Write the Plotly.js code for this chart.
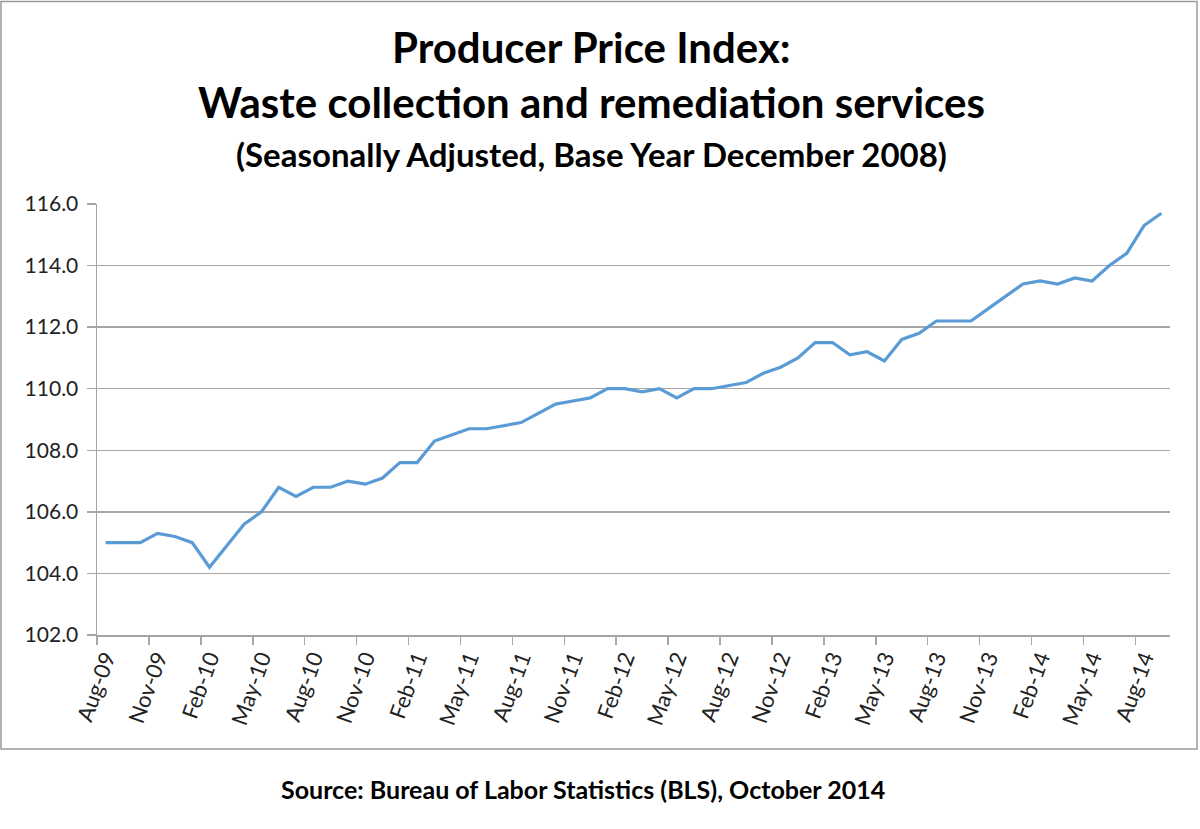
<!DOCTYPE html>
<html>
<head>
<meta charset="utf-8">
<script src="https://cdn.plot.ly/plotly-3.0.1.min.js"></script>
<style>
  html, body { margin: 0; padding: 0; background: #fff; }
  #chart { width: 1200px; height: 829px; }
</style>
</head>
<body>
<div id="chart"></div>
<script>
// monthly categories, Aug-09 .. Sep-14
var months = [
  'Aug-09', 'Sep-09', 'Oct-09', 'Nov-09', 'Dec-09', 'Jan-10', 'Feb-10', 'Mar-10',
  'Apr-10', 'May-10', 'Jun-10', 'Jul-10', 'Aug-10', 'Sep-10', 'Oct-10', 'Nov-10',
  'Dec-10', 'Jan-11', 'Feb-11', 'Mar-11', 'Apr-11', 'May-11', 'Jun-11', 'Jul-11',
  'Aug-11', 'Sep-11', 'Oct-11', 'Nov-11', 'Dec-11', 'Jan-12', 'Feb-12', 'Mar-12',
  'Apr-12', 'May-12', 'Jun-12', 'Jul-12', 'Aug-12', 'Sep-12', 'Oct-12', 'Nov-12',
  'Dec-12', 'Jan-13', 'Feb-13', 'Mar-13', 'Apr-13', 'May-13', 'Jun-13', 'Jul-13',
  'Aug-13', 'Sep-13', 'Oct-13', 'Nov-13', 'Dec-13', 'Jan-14', 'Feb-14', 'Mar-14',
  'Apr-14', 'May-14', 'Jun-14', 'Jul-14', 'Aug-14', 'Sep-14'
];

// PPI values
var ppi = [
  105.0, 105.0, 105.0, 105.3, 105.2, 105.0, 104.2, 104.9,
  105.6, 106.0, 106.8, 106.5, 106.8, 106.8, 107.0, 106.9,
  107.1, 107.6, 107.6, 108.3, 108.5, 108.7, 108.7, 108.8,
  108.9, 109.2, 109.5, 109.6, 109.7, 110.0, 110.0, 109.9,
  110.0, 109.7, 110.0, 110.0, 110.1, 110.2, 110.5, 110.7,
  111.0, 111.5, 111.5, 111.1, 111.2, 110.9, 111.6, 111.8,
  112.2, 112.2, 112.2, 112.6, 113.0, 113.4, 113.5, 113.4,
  113.6, 113.5, 114.0, 114.4, 115.3, 115.7
];

var yTicks = [102, 104, 106, 108, 110, 112, 114, 116];

var titleLines = [
  'Producer Price Index:',
  'Waste collection and remediation services',
  '(Seasonally Adjusted, Base Year December 2008)'
];
var sourceText = 'Source: Bureau of Labor Statistics (BLS), October 2014';

var font = 'Lato, "Open Sans", sans-serif';
var gridGray = '#A6A6A6';

var trace = {
  x: months,
  y: ppi,
  type: 'scatter',
  mode: 'lines',
  line: { color: '#5B9BD5', width: 3.2 },
  hoverinfo: 'x+y'
};

var layout = {
  width: 1200,
  height: 829,
  margin: { l: 97, r: 30, t: 204, b: 194 },
  paper_bgcolor: '#fff',
  plot_bgcolor: '#fff',
  showlegend: false,
  font: { family: font, color: '#333' },
  xaxis: {
    type: 'category',
    range: [-0.5, months.length - 0.5],
    tickmode: 'linear',
    tick0: 0,
    dtick: 3,
    tickson: 'boundaries',
    ticks: 'outside',
    ticklen: 8,
    tickcolor: gridGray,
    tickwidth: 1.5,
    tickangle: -70,
    tickfont: { family: font, size: 22, color: '#222' },
    showgrid: false,
    showline: true,
    linecolor: gridGray,
    linewidth: 1.5,
    zeroline: false,
    fixedrange: true
  },
  yaxis: {
    range: [102, 116],
    tickmode: 'array',
    tickvals: yTicks,
    tickformat: '.1f',
    ticks: 'outside',
    ticklen: 9,
    tickcolor: gridGray,
    tickwidth: 1.5,
    ticklabelstandoff: 4,
    tickfont: { family: font, size: 21, color: '#222' },
    showgrid: true,
    gridcolor: gridGray,
    gridwidth: 1.5,
    showline: true,
    linecolor: gridGray,
    linewidth: 1.5,
    zeroline: false,
    fixedrange: true
  },
  shapes: [
    {
      type: 'rect', xref: 'paper', yref: 'paper',
      x0: -0.0895, x1: 1.0252, y0: -0.2643, y1: 1.470,
      line: { color: '#9A9A9A', width: 1.5 },
      fillcolor: 'rgba(0,0,0,0)', layer: 'below'
    }
  ],
  annotations: [
    {
      text: '<b>' + titleLines[0] + '</b>', xref: 'paper', yref: 'paper',
      x: 0.4604, y: 1.365, showarrow: false, xanchor: 'center', yanchor: 'middle',
      font: { family: font, size: 42, color: '#000' }
    },
    {
      text: '<b>' + titleLines[1] + '</b>', xref: 'paper', yref: 'paper',
      x: 0.4604, y: 1.237, showarrow: false, xanchor: 'center', yanchor: 'middle',
      font: { family: font, size: 42, color: '#000' }
    },
    {
      text: '<b>' + titleLines[2] + '</b>', xref: 'paper', yref: 'paper',
      x: 0.4604, y: 1.117, showarrow: false, xanchor: 'center', yanchor: 'middle',
      font: { family: font, size: 33, color: '#000' }
    },
    {
      text: '<b>' + sourceText + '</b>', xref: 'paper', yref: 'paper',
      x: 0.453, y: -0.357, showarrow: false, xanchor: 'center', yanchor: 'middle',
      font: { family: font, size: 25, color: '#000' }
    }
  ]
};

Plotly.newPlot('chart', [trace], layout, { displayModeBar: false, staticPlot: true });
</script>
</body>
</html>
